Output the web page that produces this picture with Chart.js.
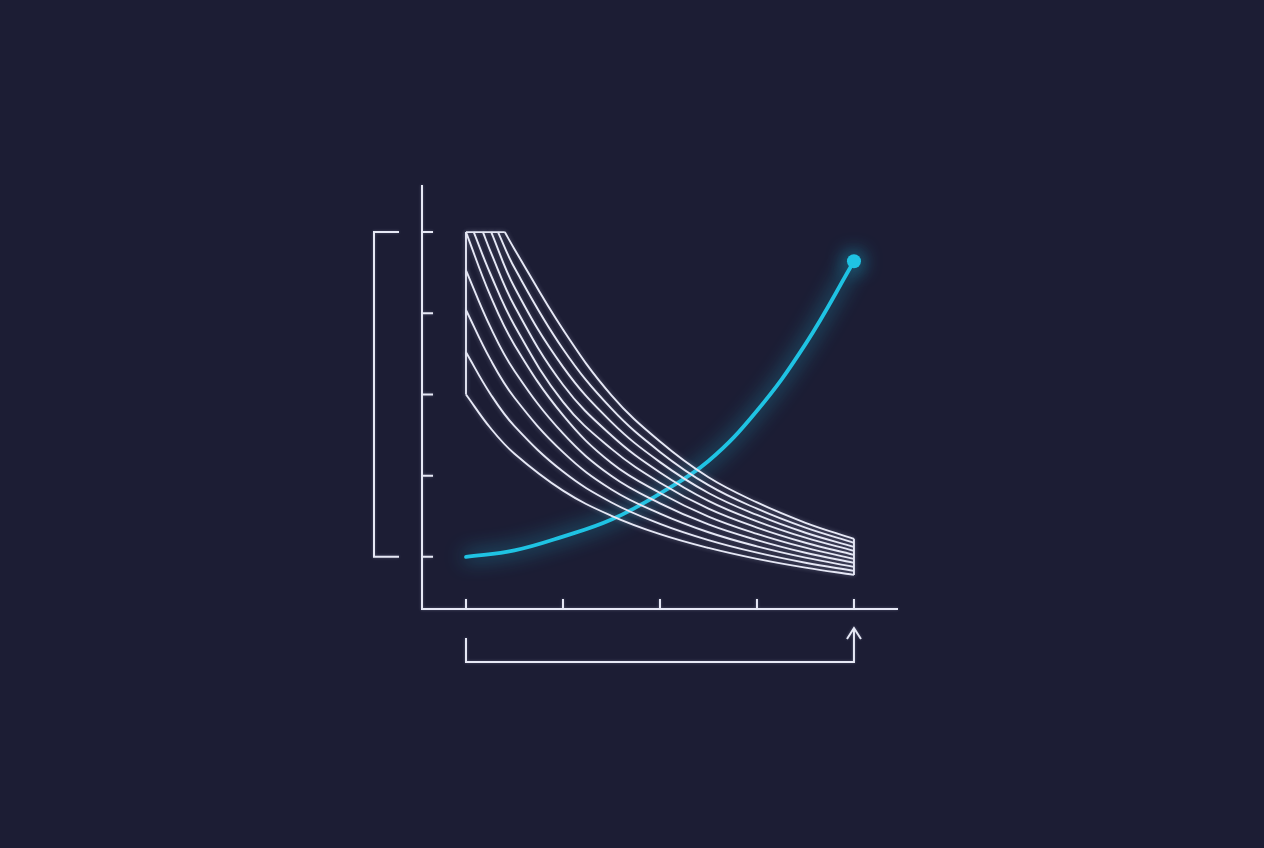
<!DOCTYPE html>
<html>
<head>
<meta charset="utf-8">
<title>Trade-off curves</title>
<script src="https://cdn.jsdelivr.net/npm/chart.js@4.4.1/dist/chart.umd.min.js"></script>
<style>
    html, body { margin: 0; padding: 0; background: #1c1d34; }
    #wrap { width: 1264px; height: 848px; position: relative; }
</style>
</head>
<body>
<div id="wrap"><canvas id="chart"></canvas></div>
<script>
// tick positions on both axes
const tickValues = [0, 1, 2, 3, 4];

// rising curve (cyan)
const growthX = [0, 0.5, 1, 1.5, 2, 2.5, 3, 3.5, 4];
const growthY = [0, 0.08, 0.25, 0.46, 0.78, 1.18, 1.80, 2.62, 3.64];

// falling family of curves: start point, value at x = 0.25 (if the curve has begun),
// then values at the shared x positions
const fanX = [0.5, 1, 1.5, 2, 2.5, 3, 3.5, 4];
const fanStartX = [0.40, 0.33, 0.26, 0.175, 0.08, 0, 0, 0, 0, 0];
const fanStartY = [4.0, 4.0, 4.0, 4.0, 4.0, 4.0, 3.53, 3.04, 2.52, 2.0];
const fanQuarterY = [null, null, null, 3.77, 3.49, 3.22, 2.835, 2.435, 2.01, 1.59];
const fanLine1 = [3.79, 2.80, 1.99, 1.42, 0.98, 0.67, 0.42, 0.222];
const fanLine2 = [3.56, 2.56, 1.825, 1.293, 0.883, 0.593, 0.359, 0.173];
const fanLine3 = [3.32, 2.34, 1.66, 1.167, 0.787, 0.516, 0.297, 0.123];
const fanLine4 = [3.09, 2.12, 1.495, 1.04, 0.69, 0.438, 0.236, 0.074];
const fanLine5 = [2.85, 1.91, 1.33, 0.913, 0.593, 0.361, 0.174, 0.025];
const fanLine6 = [2.61, 1.745, 1.155, 0.787, 0.497, 0.284, 0.113, -0.025];
const fanLine7 = [2.29, 1.52, 0.995, 0.66, 0.40, 0.207, 0.051, -0.074];
const fanLine8 = [1.96, 1.29, 0.83, 0.533, 0.303, 0.129, -0.010, -0.123];
const fanLine9 = [1.61, 1.05, 0.67, 0.407, 0.207, 0.052, -0.072, -0.173];
const fanLine10 = [1.27, 0.816, 0.506, 0.28, 0.11, -0.025, -0.133, -0.222];
const fanLines = [fanLine1, fanLine2, fanLine3, fanLine4, fanLine5,
                  fanLine6, fanLine7, fanLine8, fanLine9, fanLine10];

const LINE = '#e6e8f5';
const CYAN = '#1fc3e3';

let datasets = [];

fanLines.forEach((vals, i) => {
    let pts = [{x: fanStartX[i], y: fanStartY[i]}];
    if (fanQuarterY[i] !== null) pts.push({x: 0.25, y: fanQuarterY[i]});
    vals.forEach((v, j) => pts.push({x: fanX[j], y: v}));
    datasets.push({
        data: pts,
        borderColor: LINE,
        borderWidth: 1.9,
        pointRadius: 0,
        tension: 0.4,
        fan: true
    });
});

// closing edges of the band
let last = fanX.length - 1;
datasets.push({
    data: [{x: fanStartX[5], y: fanStartY[5]}, {x: fanStartX[0], y: fanStartY[0]}],
    borderColor: LINE, borderWidth: 1.9, pointRadius: 0, fan: true
});
datasets.push({
    data: [{x: fanStartX[5], y: fanStartY[5]}, {x: fanStartX[9], y: fanStartY[9]}],
    borderColor: LINE, borderWidth: 1.9, pointRadius: 0, fan: true
});
datasets.push({
    data: [{x: fanX[last], y: fanLine1[last]}, {x: fanX[last], y: fanLine10[last]}],
    borderColor: LINE, borderWidth: 1.9, pointRadius: 0, fan: true
});

datasets.push({
    data: growthX.map((x, i) => ({x: x, y: growthY[i]})),
    borderColor: CYAN,
    backgroundColor: CYAN,
    borderWidth: 3.8,
    borderCapStyle: 'round',
    tension: 0.4,
    pointRadius: ctx => ctx.dataIndex === growthX.length - 1 ? 7 : 0,
    pointBorderWidth: 0,
    glow: true
});

const glowPlugin = {
    id: 'glow',
    beforeDatasetDraw(chart, args) {
        let ds = chart.data.datasets[args.index];
        let ctx = chart.ctx;
        ctx.save();
        if (ds.glow) {
            ctx.shadowColor = 'rgba(31, 195, 227, 0.95)';
            ctx.shadowBlur = 20;
        } else if (ds.fan) {
            ctx.shadowColor = 'rgba(220, 225, 255, 0.35)';
            ctx.shadowBlur = 4;
        }
    },
    afterDatasetDraw(chart) {
        chart.ctx.restore();
    }
};

const axesPlugin = {
    id: 'axes',
    beforeDatasetsDraw(chart) {
        let ctx = chart.ctx;
        let xs = chart.scales.x, ys = chart.scales.y;
        let area = chart.chartArea;
        let x0 = xs.getPixelForValue(tickValues[0]);
        let x4 = xs.getPixelForValue(tickValues[tickValues.length - 1]);
        let y0 = ys.getPixelForValue(tickValues[0]);
        let y4 = ys.getPixelForValue(tickValues[tickValues.length - 1]);
        ctx.save();
        ctx.strokeStyle = LINE;
        ctx.lineWidth = 2;
        ctx.shadowColor = 'rgba(220, 225, 255, 0.3)';
        ctx.shadowBlur = 3;
        ctx.beginPath();
        // axis lines
        ctx.moveTo(area.left, area.top);
        ctx.lineTo(area.left, area.bottom);
        ctx.lineTo(area.right, area.bottom);
        // ticks
        tickValues.forEach(v => {
            let py = ys.getPixelForValue(v);
            ctx.moveTo(area.left, py);
            ctx.lineTo(area.left + 11, py);
            let px = xs.getPixelForValue(v);
            ctx.moveTo(px, area.bottom);
            ctx.lineTo(px, area.bottom - 10);
        });
        // left bracket
        let bx = area.left - 48;
        ctx.moveTo(bx + 25, y4);
        ctx.lineTo(bx, y4);
        ctx.lineTo(bx, y0);
        ctx.lineTo(bx + 25, y0);
        // bottom bracket with arrow
        let by = area.bottom + 53;
        ctx.moveTo(x0, by - 24);
        ctx.lineTo(x0, by);
        ctx.lineTo(x4, by);
        ctx.lineTo(x4, by - 34);
        ctx.moveTo(x4 - 7, by - 23);
        ctx.lineTo(x4, by - 34);
        ctx.lineTo(x4 + 7, by - 23);
        ctx.stroke();
        ctx.restore();
    }
};

new Chart(document.getElementById('chart'), {
    type: 'line',
    data: { datasets: datasets },
    options: {
        responsive: true,
        maintainAspectRatio: false,
        animation: false,
        layout: { padding: { left: 422, right: 366, top: 185, bottom: 239 } },
        plugins: { legend: { display: false }, tooltip: { enabled: false } },
        scales: {
            x: { type: 'linear', display: false, min: -0.4536, max: 4.454 },
            y: { type: 'linear', display: false, min: -0.642, max: 4.58 }
        }
    },
    plugins: [glowPlugin, axesPlugin]
});
</script>
</body>
</html>
